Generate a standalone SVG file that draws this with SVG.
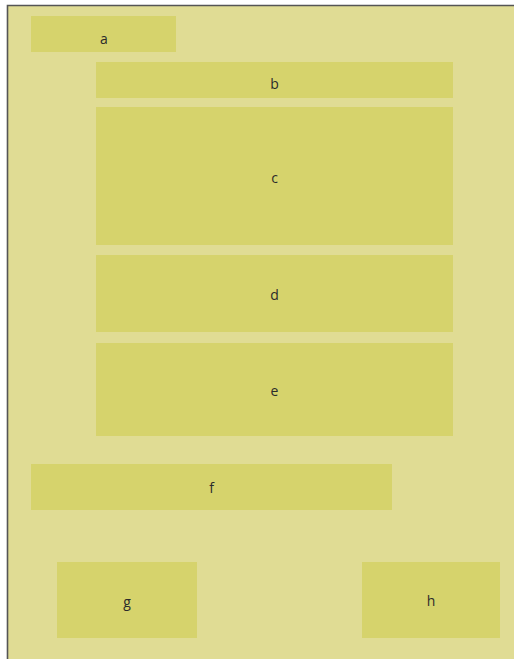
<svg xmlns="http://www.w3.org/2000/svg" width="514" height="659" viewBox="0 0 514 659">
<style>
.bg{fill:#e0dc94}
.n{fill:#d6d36c}
.t{font-family:"Open Sans","Noto Sans","DejaVu Sans",sans-serif;font-size:14px;fill:#2b2b2b;text-anchor:middle;dominant-baseline:central}
</style>
<rect x="0" y="0" width="514" height="659" fill="#ffffff"/>
<rect class="bg" x="8" y="6" width="510" height="660"/>
<path d="M7.5 666 V5.5 H518" fill="none" stroke="#555555" stroke-width="1.6"/>
<g id="node-a"><rect class="n" x="31" y="16" width="145" height="36"/><text class="t" x="104" y="38">a</text></g>
<g id="node-b"><rect class="n" x="96" y="62" width="357" height="36"/><text class="t" x="274.5" y="83">b</text></g>
<g id="node-c"><rect class="n" x="96" y="107" width="357" height="138"/><text class="t" x="274.5" y="177">c</text></g>
<g id="node-d"><rect class="n" x="96" y="255" width="357" height="77"/><text class="t" x="274.5" y="294">d</text></g>
<g id="node-e"><rect class="n" x="96" y="343" width="357" height="93"/><text class="t" x="274.5" y="390">e</text></g>
<g id="node-f"><rect class="n" x="31" y="464" width="361" height="46"/><text class="t" x="211.5" y="487">f</text></g>
<g id="node-g"><rect class="n" x="57" y="562" width="140" height="76"/><text class="t" x="127" y="601">g</text></g>
<g id="node-h"><rect class="n" x="362" y="562" width="138" height="76"/><text class="t" x="431" y="600">h</text></g>
<g id="connectors"></g>
</svg>
